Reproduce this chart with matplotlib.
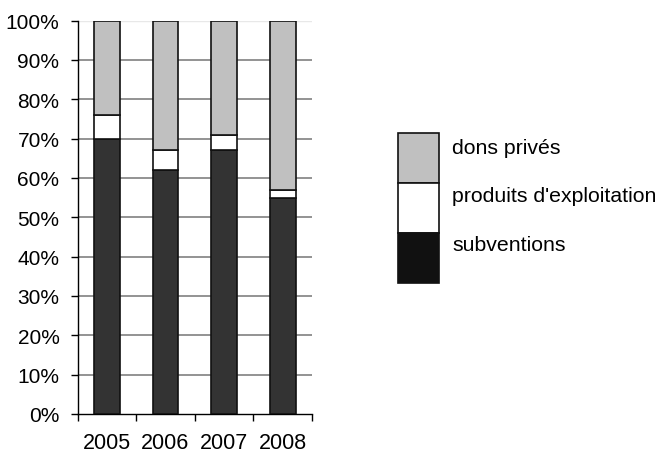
import matplotlib.pyplot as plt
from matplotlib.patches import Rectangle
from matplotlib.ticker import FixedLocator, NullFormatter

plt.rcParams['font.family'] = ['Liberation Sans', 'DejaVu Sans']

# données (% du budget)
annees = ["2005", "2006", "2007", "2008"]
subventions = [70, 62, 67, 55]
produits = [6, 5, 4, 2]
dons = [24, 33, 29, 43]

series = ["subventions", "produits d'exploitation", "dons privés"]
couleurs_barres = ["#333333", "#ffffff", "#c0c0c0"]
couleurs_legende = ["#111111", "#ffffff", "#c0c0c0"]

fig = plt.figure(figsize=(6.59, 4.56), dpi=100)
ax = fig.add_axes([77.5 / 659, 41 / 456, (312 - 77.5) / 659, (415 - 21.5) / 456])

x = list(range(len(annees)))
bas = [0] * len(annees)
for valeurs, couleur in zip([subventions, produits, dons], couleurs_barres):
    ax.bar(x, valeurs, bottom=bas, width=0.44, color=couleur,
           edgecolor="#111111", linewidth=1.2, zorder=3)
    bas = [b + v for b, v in zip(bas, valeurs)]

# axes et grille
ax.set_xlim(-0.5, len(annees) - 0.5)
ax.set_ylim(0, 100)
ax.set_yticks(range(0, 101, 10))
ax.set_yticklabels([f"{v}%" for v in range(0, 101, 10)])
for v in range(10, 100, 10):
    ax.axhline(v, color="#808080", linewidth=1.2, zorder=1)
ax.axhline(100, color="#e8e8e8", linewidth=1, zorder=1)

ax.xaxis.set_major_locator(FixedLocator([i - 0.5 for i in range(len(annees) + 1)]))
ax.xaxis.set_major_formatter(NullFormatter())
ax.xaxis.set_minor_locator(FixedLocator(x))
ax.set_xticklabels(annees, minor=True)
ax.tick_params(axis="x", which="major", length=5, width=1, direction="out")
ax.tick_params(axis="x", which="minor", length=0, pad=13, labelsize=15.5)
ax.tick_params(axis="y", length=5, width=1, direction="out", pad=8, labelsize=15)

for cote in ["top", "right"]:
    ax.spines[cote].set_visible(False)
ax.spines["left"].set_linewidth(1)
ax.spines["bottom"].set_linewidth(1)

# légende dessinée à la main : blocs empilés
haut = 134
for i, (nom, couleur) in enumerate(zip(series[::-1], couleurs_legende[::-1])):
    y0 = 456 - (haut + 50 * (i + 1))
    fig.patches.append(Rectangle((398 / 659, y0 / 456), 41 / 659, 50 / 456,
                                 transform=fig.transFigure, facecolor=couleur,
                                 edgecolor="#111111", linewidth=1.2))
    fig.text(452 / 659, (456 - (haut + 14 + 49 * i)) / 456, nom,
             fontsize=15.3, va="center", ha="left")

fig.savefig("out.png", dpi=100)
